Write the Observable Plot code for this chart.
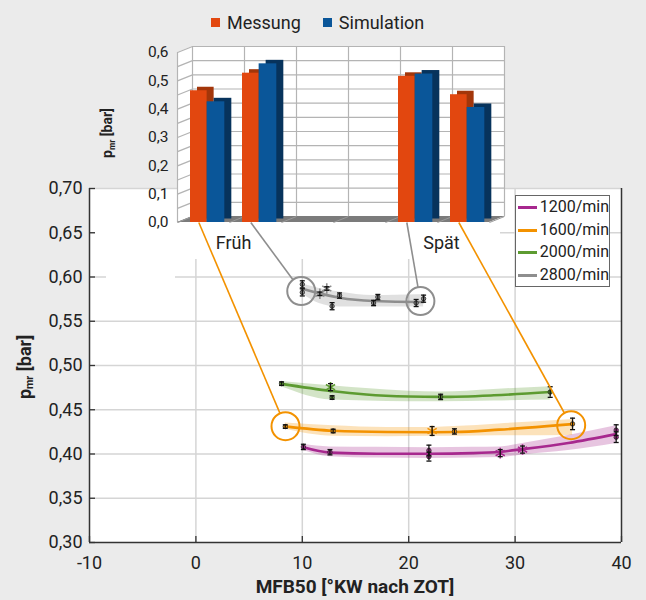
<!DOCTYPE html>
<html><head><meta charset="utf-8">
<script src="https://cdn.jsdelivr.net/npm/d3@7"></script>
<script src="https://cdn.jsdelivr.net/npm/@observablehq/plot@0.6"></script>
<style>
body{margin:0;background:#ebebeb;font-family:Roboto,"Liberation Sans",sans-serif;color:#222;}
#wrap{position:relative;width:646px;height:600px;overflow:hidden;}
#wrap > svg{position:absolute;left:0;top:0;}
.abs{position:absolute;}
.backdrop{position:absolute;background:#fff;}
.ttl{position:absolute;font-weight:bold;white-space:nowrap;}
.rot{transform:translate(-50%,-50%) rotate(-90deg);}
sub{font-size:60%;vertical-align:-0.25em;}
#legend{position:absolute;left:515px;top:195px;width:93px;height:90px;background:#fff;border:1px solid #666;font-size:16px;}
#legend div{height:22.7px;line-height:22.7px;display:flex;align-items:center;}
#legend span.sw{display:inline-block;width:20px;height:3px;margin:0 3px 0 2px;}
#toplegend{position:absolute;left:211px;top:12px;font-size:18px;display:flex;align-items:center;}
#toplegend span.sq{display:inline-block;width:9px;height:9px;margin-right:7px;}
</style></head><body><div id="wrap"></div>
<script>
// ---------- inset bar chart data ----------
const insetColumns = [0, 1, 2, 3, 4, 5];
const messung    = [0.465, 0.527, null, null, 0.516, 0.451];
const simulation = [0.426, 0.560, null, null, 0.524, 0.406];
const insetSeries = ["Messung", "Simulation"];
const groupLabels = ["Früh", "Spät"];
const groupColumns = [1, 5];
const insetTicks = [0, 0.1, 0.2, 0.3, 0.4, 0.5, 0.6];
const insetGrid = [0, 0.05, 0.1, 0.15, 0.2, 0.25, 0.3, 0.35, 0.4, 0.45, 0.5, 0.55, 0.6];

// ---------- main chart data ----------
const xTicks = [-10, 0, 10, 20, 30, 40];
const yTicks = [0.30, 0.35, 0.40, 0.45, 0.50, 0.55, 0.60, 0.65, 0.70];
const seriesNames = ["1200/min", "1600/min", "2000/min", "2800/min"];

const p1200x = [10.1, 12.6, 21.9, 21.9, 28.6, 30.7, 39.5, 39.5];
const p1200y = [0.408, 0.402, 0.404, 0.397, 0.401, 0.405, 0.427, 0.419];
const p1200e = [0.003, 0.003, 0.006, 0.005, 0.004, 0.004, 0.006, 0.006];
const p1200m = ["dot", "dot", "dot", "dot", "asterisk", "asterisk", "dot", "dot"];

const p1600x = [8.4, 12.9, 22.2, 24.3, 35.4];
const p1600y = [0.431, 0.426, 0.426, 0.4255, 0.434];
const p1600e = [0.002, 0.002, 0.005, 0.003, 0.0065];
const p1600m = ["dot", "dot", "asterisk", "dot", "dot"];

const p2000x = [8.05, 12.65, 12.8, 23.0, 33.3];
const p2000y = [0.4795, 0.4755, 0.4638, 0.4645, 0.470];
const p2000e = [0.002, 0.004, 0.002, 0.003, 0.006];
const p2000m = ["dot", "asterisk", "dot", "dot", "dot"];

const p2800x = [10.0, 10.0, 11.65, 12.3, 12.8, 13.5, 16.7, 17.1, 20.7, 21.4];
const p2800y = [0.5917, 0.5826, 0.581, 0.587, 0.567, 0.579, 0.5706, 0.5773, 0.5706, 0.5755];
const p2800e = [0.004, 0.004, 0.002, 0.002, 0.004, 0.003, 0.003, 0.003, 0.004, 0.004];
const p2800m = ["dot", "dot", "asterisk", "asterisk", "dot", "dot", "dot", "dot", "dot", "dot"];

const f1200x  = [10.1, 12.6, 17, 22, 26, 28.6, 30.7, 35, 39.5];
const f1200y  = [0.4075, 0.4015, 0.4003, 0.4003, 0.401, 0.4025, 0.4055, 0.4125, 0.4225];
const f1200lo = [0.404, 0.397, 0.3955, 0.395, 0.3955, 0.396, 0.399, 0.404, 0.412];
const f1200hi = [0.411, 0.408, 0.4075, 0.407, 0.4075, 0.408, 0.412, 0.421, 0.432];

const f1600x  = [8.4, 12.9, 18, 22.2, 24.3, 28.5, 35.4];
const f1600y  = [0.4312, 0.4262, 0.4248, 0.4246, 0.4248, 0.4275, 0.4338];
const f1600lo = [0.428, 0.420, 0.4195, 0.420, 0.420, 0.4205, 0.421];
const f1600hi = [0.435, 0.432, 0.430, 0.430, 0.431, 0.434, 0.439];

const f2000x  = [8.05, 12.7, 16, 20, 23, 28, 33.3];
const f2000y  = [0.4792, 0.4712, 0.4673, 0.4650, 0.4645, 0.4663, 0.4700];
const f2000lo = [0.476, 0.461, 0.460, 0.459, 0.459, 0.460, 0.461];
const f2000hi = [0.482, 0.477, 0.474, 0.471, 0.470, 0.473, 0.476];

const f2800x  = [10, 11.6, 13.5, 16.7, 20.8, 21.4];
const f2800y  = [0.5868, 0.5815, 0.5766, 0.5728, 0.5717, 0.5717];
const f2800lo = [0.581, 0.570, 0.566, 0.566, 0.566, 0.566];
const f2800hi = [0.592, 0.587, 0.583, 0.579, 0.580, 0.580];

// highlighted points (circles) and the inset column each one is linked to
const circleSeries = ["1600/min", "2800/min", "2800/min", "1600/min"];
const circleX = [8.42, 9.9, 21.1, 35.27];
const circleY = [0.4314, 0.5841, 0.5728, 0.4325];
const circleColumn = [0, 1, 4, 5];

// ---------- styles ----------
const seriesColors = ["#a7288e", "#f39200", "#5d9b31", "#8e8e8e"];
const colorOf = Object.fromEntries(seriesNames.map((s, i) => [s, seriesColors[i]]));
const barFront = {Messung: "#e2470f", Simulation: "#0a5699"};
const barSide  = {Messung: "#a3360a", Simulation: "#07335c"};
const FONT = 'Roboto, "Liberation Sans", sans-serif';
const W = 646, H = 600;

// ---------- build tables ----------
const pts = [], fits = [];
const P = {"1200/min": [p1200x, p1200y, p1200e, p1200m], "1600/min": [p1600x, p1600y, p1600e, p1600m],
           "2000/min": [p2000x, p2000y, p2000e, p2000m], "2800/min": [p2800x, p2800y, p2800e, p2800m]};
const F = {"1200/min": [f1200x, f1200y, f1200lo, f1200hi], "1600/min": [f1600x, f1600y, f1600lo, f1600hi],
           "2000/min": [f2000x, f2000y, f2000lo, f2000hi], "2800/min": [f2800x, f2800y, f2800lo, f2800hi]};
for (const s of seriesNames) {
  const [xs_, ys_, es_, ms_] = P[s];
  xs_.forEach((x, i) => pts.push({series: s, x, y: ys_[i], e: es_[i], m: ms_[i]}));
  const [fx, fy, flo, fhi] = F[s];
  fx.forEach((x, i) => fits.push({series: s, x, y: fy[i], lo: flo[i], hi: fhi[i]}));
}
const circles = circleX.map((x, i) => ({series: circleSeries[i], x, y: circleY[i], col: circleColumn[i]}));

// ---------- main chart ----------
const M = {left: 89, right: 25, top: 188, bottom: 58};
const xDomain = [-10, 40], yDomain = [0.30, 0.70];
const xs = Plot.scale({x: {domain: xDomain, range: [M.left, W - M.right]}});
const ys = Plot.scale({y: {domain: yDomain, range: [H - M.bottom, M.top]}});
const tickDX = xs.invert(M.left + 6) - xDomain[0];
const tickDY = ys.invert(H - M.bottom - 6) - yDomain[0];

const capSymbol = {draw(ctx, size) { const r = Math.sqrt(size / Math.PI); ctx.moveTo(-r, 0); ctx.lineTo(r, 0); }};
const inner = (arr, dom) => arr.filter(v => v > dom[0] && v < dom[1]);

const main = Plot.plot({
  width: W, height: H,
  marginLeft: M.left, marginRight: M.right, marginTop: M.top, marginBottom: M.bottom,
  style: {background: "transparent", fontSize: "18px", fontFamily: FONT, color: "#222"},
  x: {domain: xDomain, ticks: xTicks, tickFormat: d => String(d), tickSize: 0, tickPadding: 14, label: null},
  y: {domain: yDomain, ticks: yTicks, tickFormat: d => d.toFixed(2).replace(".", ","), tickSize: 0, tickPadding: 7, label: null},
  color: {domain: seriesNames, range: seriesColors},
  marks: [
    Plot.frame({fill: "white", stroke: null}),
    Plot.ruleX(inner(xTicks, xDomain), {stroke: "#d5d5d5", strokeWidth: 1.5}),
    Plot.ruleY(inner(yTicks, yDomain), {stroke: "#d5d5d5", strokeWidth: 1.5}),
    Plot.ruleY([yDomain[1]], {stroke: "#d5d5d5", strokeWidth: 1.5}),
    Plot.areaY(fits, {x: "x", y1: "lo", y2: "hi", z: "series", fill: "series", fillOpacity: 0.27, curve: "monotone-x"}),
    Plot.line(fits, {x: "x", y: "y", z: "series", stroke: "series", strokeWidth: 2.6, curve: "monotone-x"}),
    Plot.dot(pts.filter(d => d.m === "dot"), {x: "x", y: "y", r: 2.2, fill: "series", stroke: "#222", strokeWidth: 0.8}),
    Plot.dot(pts.filter(d => d.m === "asterisk"), {x: "x", y: "y", r: 5, symbol: "asterisk", stroke: "series", strokeWidth: 1.6}),
    Plot.ruleX(pts, {x: "x", y1: d => d.y - d.e, y2: d => d.y + d.e, stroke: "#111", strokeWidth: 1.3}),
    Plot.dot(pts, {x: "x", y: d => d.y - d.e, r: 2.5, symbol: capSymbol, stroke: "#111", strokeWidth: 1.3}),
    Plot.dot(pts, {x: "x", y: d => d.y + d.e, r: 2.5, symbol: capSymbol, stroke: "#111", strokeWidth: 1.3}),
    Plot.dot(circles, {x: "x", y: "y", r: 14, stroke: "series", strokeWidth: 2, fill: "none"}),
    Plot.ruleX(xDomain, {stroke: "#333", strokeWidth: 1.5}),
    Plot.ruleY([yDomain[0]], {stroke: "#333", strokeWidth: 1.5}),
    Plot.ruleX(xTicks, {y1: yDomain[0], y2: yDomain[0] + tickDY, stroke: "#333", strokeWidth: 1.3}),
    Plot.ruleY(yTicks, {x1: xDomain[0], x2: xDomain[0] + tickDX, stroke: "#333", strokeWidth: 1.3})
  ]
});

// ---------- inset chart ----------
const I = {left: 177, right: W - 489, top: 52, bottom: H - 222};
const ixs = Plot.scale({x: {domain: [0, 6], range: [I.left, W - I.right]}});
const iys = Plot.scale({y: {domain: [0, 0.6], range: [H - I.bottom, I.top]}});
const dX = ixs.invert(I.left + 15) - 0;       // wall depth (15px right)
const dY = iys.invert(H - I.bottom - 6) - 0;  // wall depth (6px up)
const BAR_SLOTS = {Messung: [0.25, 0.57], Simulation: [0.57, 0.91]};
const BAR_M_CENTER = 0.41;

const bars = [];
insetColumns.forEach((c, i) => {
  if (messung[i] != null) bars.push({series: "Messung", col: c, v: messung[i]});
  if (simulation[i] != null) bars.push({series: "Simulation", col: c, v: simulation[i]});
});
const groups = groupLabels.map((label, i) => ({label, col: groupColumns[i]}));

const CIRCLE_R = 14;
const connectors = circles.map(c => {
  const bx = c.col + BAR_M_CENTER;
  const sx = ixs.apply(bx), sy = iys.apply(0);
  const px = xs.apply(c.x), py = ys.apply(c.y);
  const vx = px - sx, vy = py - sy, len = Math.hypot(vx, vy);
  return {color: colorOf[c.series], x1: bx, y1: 0,
          x2: ixs.invert(px - vx / len * CIRCLE_R), y2: iys.invert(py - vy / len * CIRCLE_R)};
});

const barMarks = [];
for (const s of insetSeries) {
  const [a, b] = BAR_SLOTS[s];
  const data = bars.filter(d => d.series === s);
  barMarks.push(Plot.rectY(data, {x1: d => d.col + a, x2: d => d.col + b, y: "v", dx: 7, dy: -3.5, fill: barSide[s]}));
  barMarks.push(Plot.rectY(data, {x1: d => d.col + a, x2: d => d.col + b, y: "v", fill: barFront[s]}));
}

const inset = Plot.plot({
  width: W, height: H,
  marginLeft: I.left, marginRight: I.right, marginTop: I.top, marginBottom: I.bottom,
  style: {background: "transparent", fontSize: "15.5px", fontFamily: FONT, color: "#222", pointerEvents: "none"},
  x: {domain: [0, 6], axis: null},
  y: {domain: [0, 0.6], ticks: insetTicks, tickFormat: d => d.toFixed(1).replace(".", ","), tickSize: 0, tickPadding: 9, label: null},
  color: {type: "identity"},
  marks: [
    Plot.areaY([{x: 0, y1: 0, y2: 0.6}, {x: dX, y1: dY, y2: 0.6 + dY}], {x: "x", y1: "y1", y2: "y2", fill: "white"}),
    Plot.rect([0], {x1: dX, x2: 6 + dX, y1: dY, y2: 0.6 + dY, fill: "white"}),
    Plot.ruleY(insetGrid, {y: d => d + dY, x1: dX, x2: 6 + dX, stroke: "#b4b4b4", strokeWidth: 1.2}),
    Plot.ruleX(d3.range(0, 7), {x: d => d + dX, y1: dY, y2: 0.6 + dY, stroke: "#b4b4b4", strokeWidth: 1.2}),
    Plot.link(insetGrid, {x1: 0, y1: d => d, x2: dX, y2: d => d + dY, stroke: "#b4b4b4", strokeWidth: 1.2}),
    Plot.ruleX([0], {y1: 0, y2: 0.6, stroke: "#b4b4b4", strokeWidth: 1.2}),
    Plot.areaY([{x: 0, y1: 0, y2: 0}, {x: dX, y1: 0, y2: dY}, {x: 6, y1: 0, y2: dY}, {x: 6 + dX, y1: dY, y2: dY}],
      {x: "x", y1: "y1", y2: "y2", fill: "#7b7b7b"}),
    Plot.link(d3.range(0, 7), {x1: d => d, y1: 0, x2: d => d + dX, y2: dY, stroke: "#9a9a9a", strokeWidth: 1}),
    ...barMarks,
    Plot.text(groups, {x: "col", y: 0, text: "label", dx: 4, dy: 21, fontSize: 18, fill: "#222"}),
    Plot.link(connectors, {x1: "x1", y1: "y1", x2: "x2", y2: "y2", stroke: "color", strokeWidth: 1.6})
  ]
});

// ---------- assemble ----------
const wrap = document.getElementById("wrap");
wrap.appendChild(main);
[[95, 189.5, 405, 69], [106, 258, 69, 27]].forEach(([l, t, w, h]) => {
  const d = document.createElement("div");
  d.className = "backdrop";
  Object.assign(d.style, {left: l + "px", top: t + "px", width: w + "px", height: h + "px"});
  wrap.appendChild(d);
});
wrap.appendChild(inset);

const extra = document.createElement("div");
extra.innerHTML = `
  <div id="toplegend">${insetSeries.map((s, i) =>
    `<span class="sq" style="background:${barFront[s]}"></span><span style="margin-right:${i ? 0 : 22}px">${s}</span>`).join("")}</div>
  <div id="legend">${seriesNames.map(s =>
    `<div><span class="sw" style="background:${colorOf[s]}"></span>${s}</div>`).join("")}</div>
  <div class="ttl rot" style="left:108px;top:133px;font-size:14px">p<sub>mr</sub> [bar]</div>
  <div class="ttl rot" style="left:25px;top:367px;font-size:18px">p<sub>mr</sub> [bar]</div>
  <div class="ttl" style="left:355px;top:586px;transform:translate(-50%,-50%);font-size:19px">MFB50 [°KW nach ZOT]</div>`;
while (extra.firstChild) wrap.appendChild(extra.firstChild);
</script></body></html>
